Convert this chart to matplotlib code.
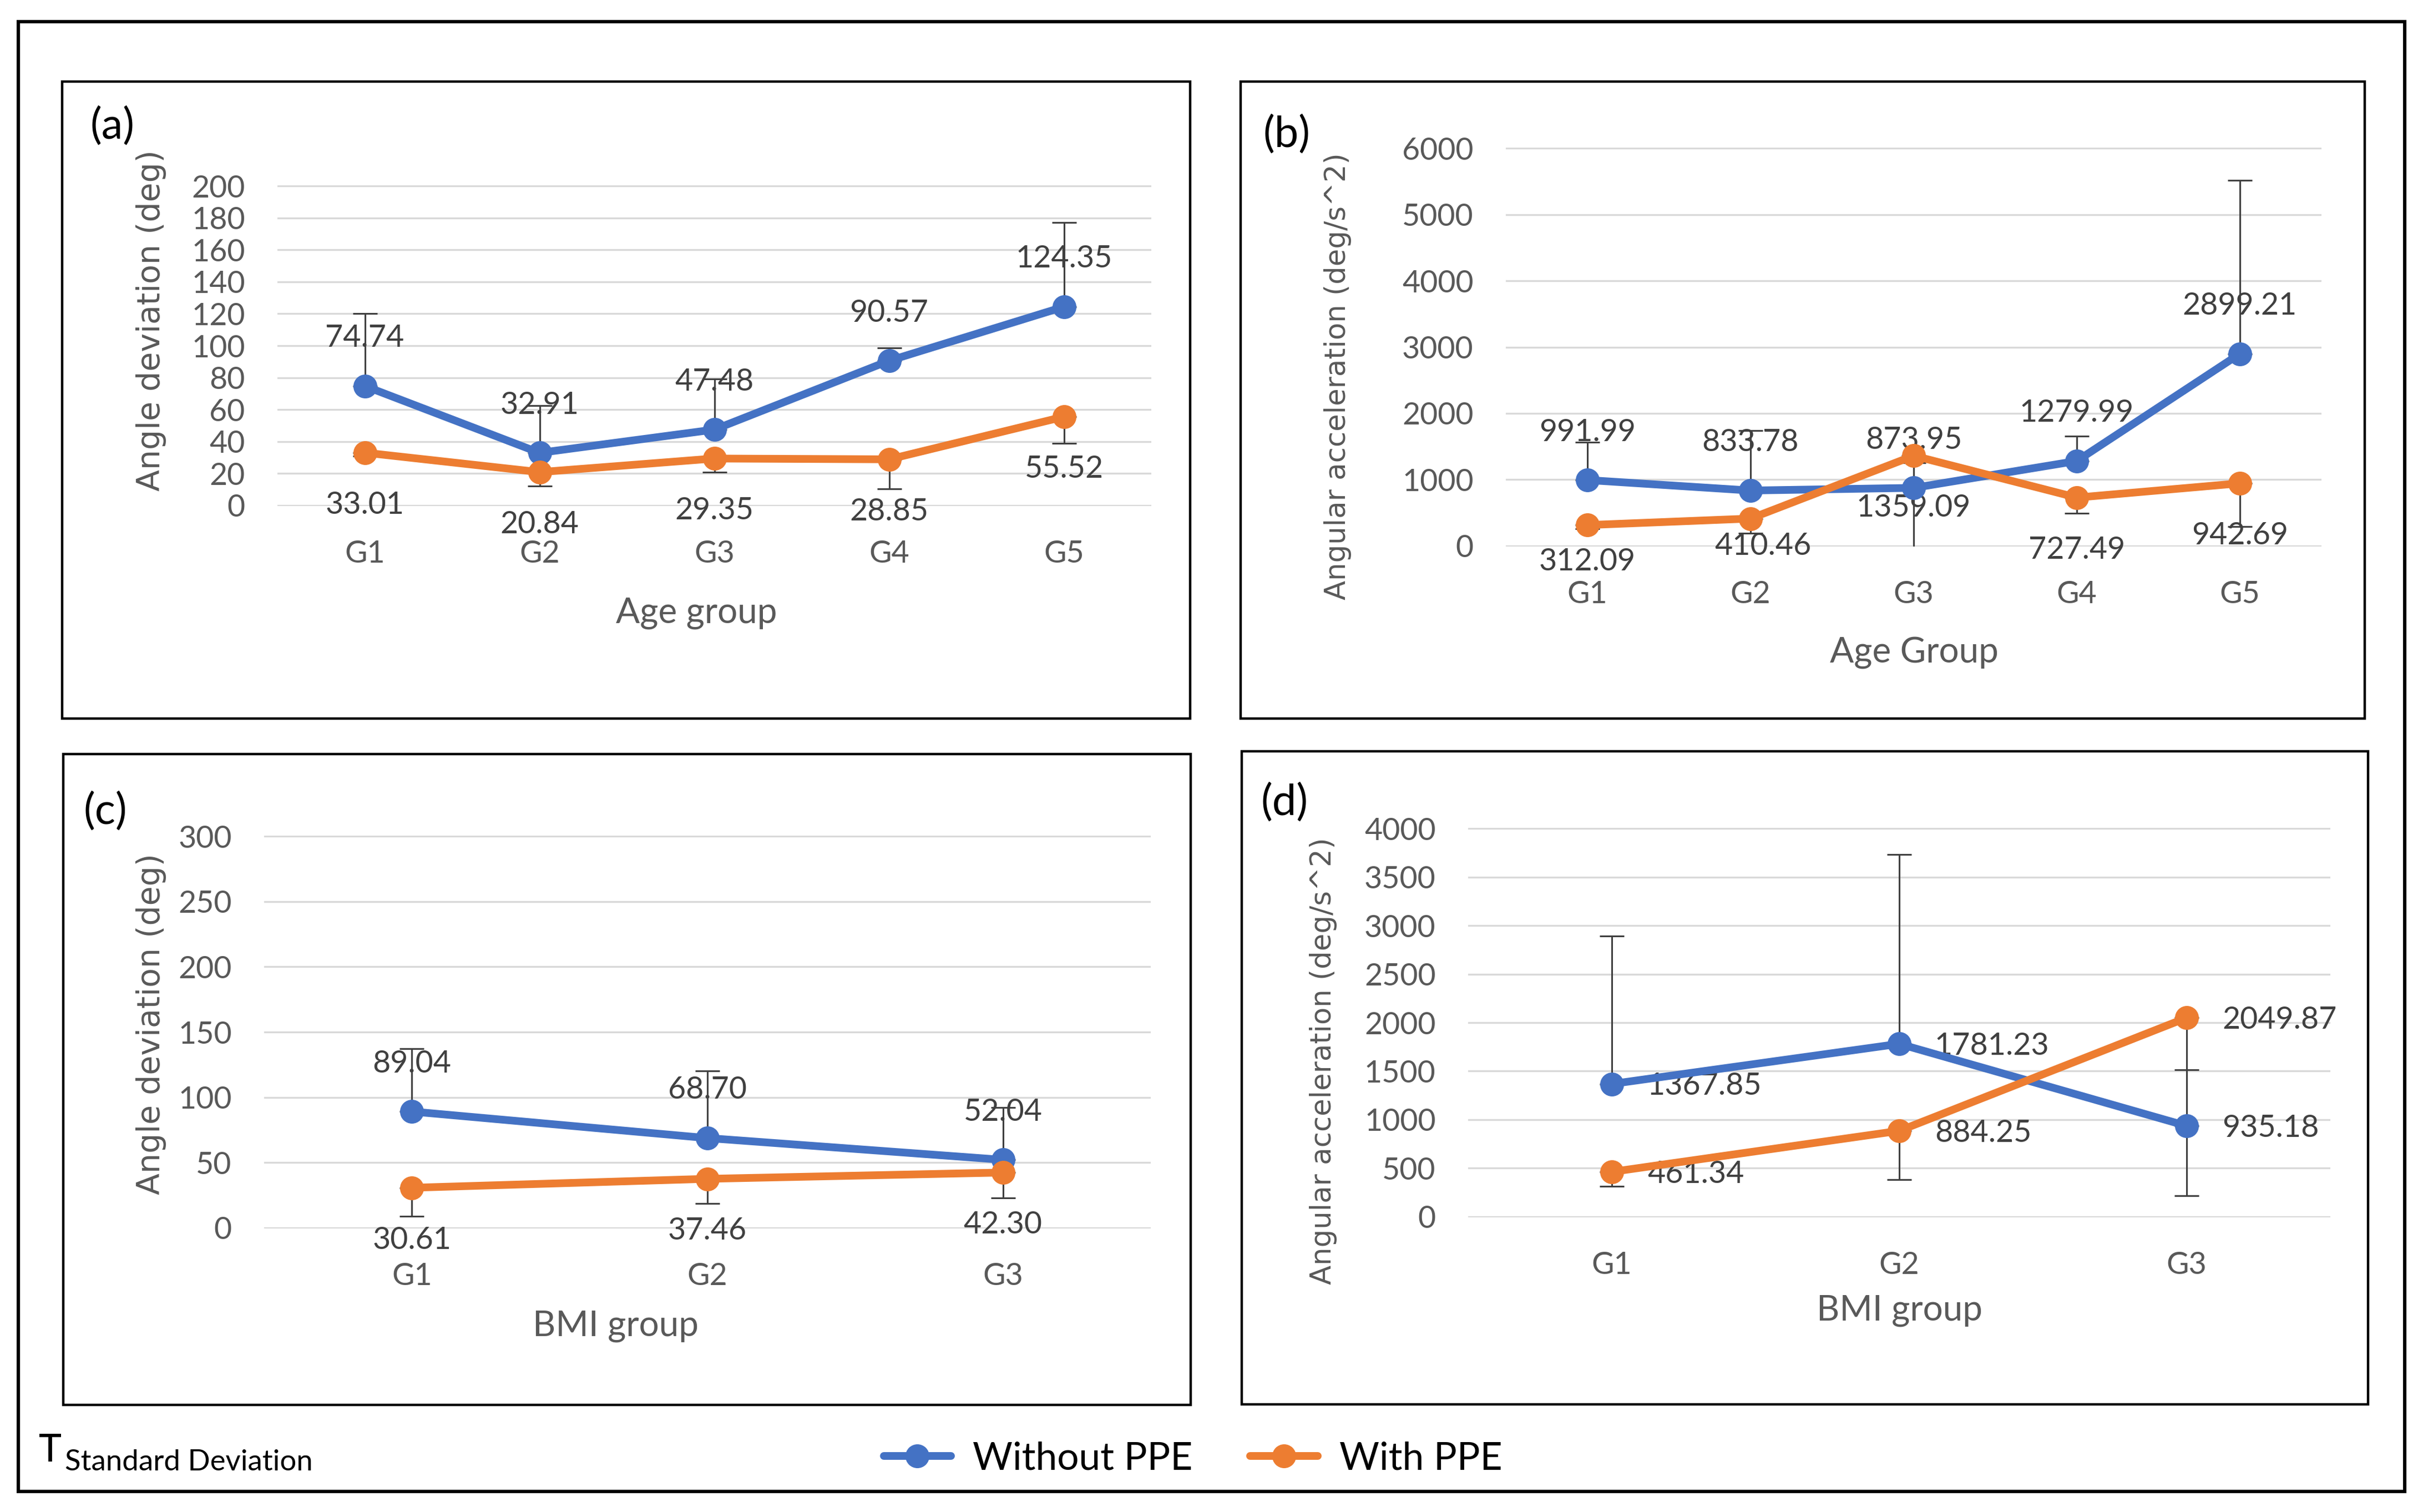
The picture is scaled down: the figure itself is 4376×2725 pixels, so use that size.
import numpy as np
import matplotlib
matplotlib.use("Agg")
import matplotlib.pyplot as plt
from matplotlib.patches import Rectangle

plt.rcParams['font.family'] = ['Lato', 'DejaVu Sans']

W, H = 4376, 2725
DPI = 200

BLUE = '#4472C4'
ORANGE = '#ED7D31'

age_groups = ['G1', 'G2', 'G3', 'G4', 'G5']
bmi_groups = ['G1', 'G2', 'G3']

# (a) angle deviation by age group
age_dev_without = [74.74, 32.91, 47.48, 90.57, 124.35]
age_dev_with = [33.01, 20.84, 29.35, 28.85, 55.52]
age_dev_without_sd = [45.3, 29.4, 31.7, 8.1, 52.8]
age_dev_with_sd = [2.0, 8.6, 8.5, 18.5, 16.5]

# (b) angular acceleration by age group
age_acc_without = [991.99, 833.78, 873.95, 1279.99, 2899.21]
age_acc_with = [312.09, 410.46, 1359.09, 727.49, 942.69]
age_acc_without_sd = [569, 904, 380, 376, 2616]
age_acc_with_sd = [60, 221, 1400, 236, 650]

# (c) angle deviation by BMI group
bmi_dev_without = [89.04, 68.70, 52.04]
bmi_dev_with = [30.61, 37.46, 42.30]
bmi_dev_without_sd = [48.3, 51.7, 40.0]
bmi_dev_with_sd = [21.8, 19.0, 19.5]

# (d) angular acceleration by BMI group
bmi_acc_without = [1367.85, 1781.23, 935.18]
bmi_acc_with = [461.34, 884.25, 2049.87]
bmi_acc_without_sd = [1527, 1952, 580]
bmi_acc_with_sd = [150, 501, 1836]


def px_rect(x0, y0, x1, y1):
    return [x0 / W, 1 - y1 / H, (x1 - x0) / W, (y1 - y0) / H]


fig = plt.figure(figsize=(W / DPI, H / DPI), dpi=DPI)

# outer frame and panel frames
fig.patches.append(Rectangle((33 / W, 1 - 2688 / H), (4334 - 33) / W, (2688 - 39) / H,
                             transform=fig.transFigure, fill=False, lw=2.2, ec='black'))
for (x0, y0, x1, y1) in [(112, 147, 2145, 1295), (2236, 147, 4262, 1295),
                         (114, 1359, 2146, 2532), (2238, 1354, 4268, 2531)]:
    fig.patches.append(Rectangle((x0 / W, 1 - y1 / H), (x1 - x0) / W, (y1 - y0) / H,
                                 transform=fig.transFigure, fill=False, lw=1.6, ec='black'))


def panel(rect, cats, blue, orange, blue_sd, orange_sd, top, step, ylabel, ylab_xy,
          ylab_size, xlabel, xlab_xy, letter, letter_xy, mode='vert',
          orange_off=None):
    ax = fig.add_axes(px_rect(*rect))
    x = np.arange(len(cats))
    n = len(cats)
    ax.errorbar(x, blue, yerr=[np.zeros(n), blue_sd], fmt='none', ecolor='#404040',
                elinewidth=1.1, capsize=8, capthick=1.1, zorder=2)
    ax.errorbar(x, orange, yerr=[orange_sd, np.zeros(n)], fmt='none', ecolor='#404040',
                elinewidth=1.1, capsize=8, capthick=1.1, zorder=2)
    lb, = ax.plot(x, blue, color=BLUE, lw=5, marker='o', ms=14.5, zorder=3,
                  solid_capstyle='round', label='Without PPE')
    lo, = ax.plot(x, orange, color=ORANGE, lw=5, marker='o', ms=14.5, zorder=4,
                  solid_capstyle='round', label='With PPE')
    ax.set_xlim(-0.5, n - 0.5)
    ax.set_ylim(-top * 0.002, top * 1.002)
    ax.set_yticks(np.arange(0, top + step / 2, step))
    ax.set_xticks(x)
    ax.set_xticklabels(cats)
    ax.yaxis.grid(True, color='#D9D9D9', lw=1.2)
    ax.set_axisbelow(True)
    for s in ax.spines.values():
        s.set_visible(False)
    ax.tick_params(length=0, labelsize=20, labelcolor='#595959')
    ax.tick_params(axis='y', pad=21)
    ax.tick_params(axis='x', pad=22)

    if orange_off is None:
        orange_off = [(0, -34)] * n
    for i in range(n):
        if mode == 'vert':
            ax.annotate(f'{blue[i]:.2f}', (x[i], blue[i]), xytext=(0, 31),
                        textcoords='offset points', ha='center', va='center',
                        fontsize=20, color='#404040', zorder=1)
            ax.annotate(f'{orange[i]:.2f}', (x[i], orange[i]), xytext=orange_off[i],
                        textcoords='offset points', ha='center', va='center',
                        fontsize=20, color='#404040', zorder=1)
        else:
            for v in (blue[i], orange[i]):
                ax.annotate(f'{v:.2f}', (x[i], v), xytext=(23, -1.5),
                            textcoords='offset points', ha='left', va='center',
                            fontsize=20, color='#404040', zorder=1)

    ax.set_ylabel(ylabel, family='DejaVu Sans', fontsize=ylab_size, color='#595959')
    ax.yaxis.set_label_coords(*ylab_xy, transform=fig.transFigure)
    ax.yaxis.label.set_va('center')
    ax.set_xlabel(xlabel, fontsize=23, color='#595959')
    ax.xaxis.set_label_coords(*xlab_xy, transform=fig.transFigure)
    ax.xaxis.label.set_va('center')
    fig.text(letter_xy[0], letter_xy[1], letter, fontsize=28, color='black',
             ha='center', va='center')
    return lb, lo


def fxy(px, py):
    return (px / W, 1 - py / H)


panel((500, 334, 2075, 912), age_groups, age_dev_without, age_dev_with,
      age_dev_without_sd, age_dev_with_sd, 200, 20, 'Angle deviation (deg)',
      fxy(272, 578), 20.5, 'Age group', fxy(1255, 1105), '(a)', fxy(203, 228))

panel((2714, 266, 4184, 985), age_groups, age_acc_without, age_acc_with,
      age_acc_without_sd, age_acc_with_sd, 6000, 1000, 'Angular acceleration (deg/s^2)',
      fxy(2411, 678), 18.5, 'Age Group', fxy(3450, 1177), '(b)', fxy(2319, 243),
      orange_off=[(0, -24), (8, -18), (0, -34), (0, -34), (0, -34)])

panel((476, 1506, 2074, 2214), bmi_groups, bmi_dev_without, bmi_dev_with,
      bmi_dev_without_sd, bmi_dev_with_sd, 300, 50, 'Angle deviation (deg)',
      fxy(272, 1846), 20.5, 'BMI group', fxy(1110, 2390), '(c)', fxy(190, 1463))

lb, lo = panel((2646, 1492, 4200, 2194), bmi_groups, bmi_acc_without, bmi_acc_with,
               bmi_acc_without_sd, bmi_acc_with_sd, 4000, 500,
               'Angular acceleration (deg/s^2)', fxy(2385, 1912), 18.5, 'BMI group',
               fxy(3424, 2362), '(d)', fxy(2315, 1447), mode='right')

fig.legend(handles=[lb, lo], labels=['Without PPE', 'With PPE'], loc='center',
           bbox_to_anchor=fxy(2150, 2629), ncol=2, frameon=False, fontsize=25,
           handlelength=1.75, handletextpad=0.56, columnspacing=1.5)

fig.text(70 / W, 1 - 2614 / H, 'T', fontsize=25, ha='left', va='center', color='black')
fig.text(117 / W, 1 - 2636 / H, 'Standard Deviation', fontsize=19, ha='left',
         va='center', color='black')

fig.savefig('out.png', dpi=DPI)
